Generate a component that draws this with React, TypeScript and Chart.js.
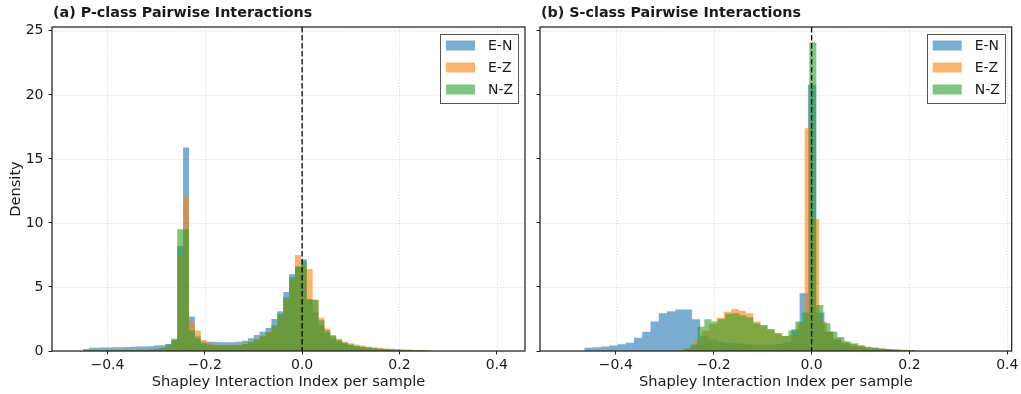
import React, { useEffect, useRef } from "react";
import { Chart, registerables } from "chart.js";

Chart.register(...registerables);

// ---------- data ----------
const SERIES_NAMES = ["E-N", "E-Z", "N-Z"];
const SERIES_COLORS = [
  "rgba(31,119,180,0.6)",
  "rgba(255,127,14,0.6)",
  "rgba(44,160,44,0.6)",
];
const PANEL_TITLES = ["(a) P-class Pairwise Interactions", "(b) S-class Pairwise Interactions"];
const X_LABEL = "Shapley Interaction Index per sample";
const Y_LABEL = "Density";
const X_TICKS = [-0.4, -0.2, 0, 0.2, 0.4];
const Y_TICKS = [0, 5, 10, 15, 20, 25];
const Y_MAX = 25.3;
const P_X_RANGE = [-0.514, 0.458];
const S_X_RANGE = [-0.555, 0.409];

// P-class: common bin grid
const P_BIN_START = -0.4503;
const P_BIN_WIDTH = 0.0121;
const P_EN = [0.15, 0.25, 0.25, 0.27, 0.27, 0.3, 0.3, 0.32, 0.33, 0.35, 0.36, 0.38, 0.42, 0.45, 0.55, 0.8, 8.2,
  15.9, 2.7, 1.2, 0.75, 0.72, 0.7, 0.68, 0.68, 0.68, 0.72, 0.8, 1.0, 1.25, 1.5, 1.8, 2.5, 3.1, 4.6, 6.0, 6.6, 7.16,
  4.0, 3.0, 2.0, 1.4, 1.0, 0.75, 0.58, 0.45, 0.36, 0.3, 0.25, 0.2, 0.15, 0.12, 0.1, 0.08, 0.06, 0.05, 0.04, 0.03, 0.02];
const P_EZ = [0.03, 0.05, 0.05, 0.06, 0.07, 0.08, 0.08, 0.1, 0.1, 0.12, 0.12, 0.15, 0.18, 0.22, 0.35, 0.9, 7.5,
  12.05, 2.3, 1.6, 0.85, 0.6, 0.5, 0.47, 0.45, 0.45, 0.5, 0.6, 0.75, 0.95, 1.2, 1.5, 2.0, 2.7, 4.0, 5.5, 7.5, 6.5,
  6.4, 4.0, 2.6, 1.75, 1.25, 0.95, 0.75, 0.6, 0.5, 0.42, 0.35, 0.3, 0.25, 0.2, 0.18, 0.15, 0.12, 0.1, 0.08, 0.05, 0.03];
const P_NZ = [0.02, 0.03, 0.03, 0.04, 0.05, 0.05, 0.06, 0.07, 0.08, 0.1, 0.1, 0.12, 0.15, 0.25, 0.5, 0.95, 9.5,
  9.5, 1.6, 1.0, 0.6, 0.5, 0.45, 0.45, 0.45, 0.45, 0.45, 0.55, 0.7, 0.9, 1.15, 1.45, 2.0, 2.9, 4.2, 5.75, 6.6, 7.0,
  4.06, 4.0, 2.4, 1.6, 1.2, 0.85, 0.65, 0.5, 0.4, 0.33, 0.27, 0.22, 0.18, 0.15, 0.13, 0.12, 0.1, 0.1, 0.08, 0.06, 0.04];

// S-class: each series has its own bins
const S_EN_START = -0.4646;
const S_EN_WIDTH = 0.01693;
const S_EN = [0.26, 0.3, 0.35, 0.42, 0.52, 0.65, 1.04, 1.5, 2.3, 2.94, 3.1, 3.25, 3.25, 2.47, 1.2, 0.9, 0.75, 0.65,
  0.6, 0.55, 0.5, 0.5, 0.5, 0.55, 0.7, 1.7, 4.5, 20.8, 3.0, 1.5, 0.9, 0.6, 0.4, 0.3, 0.2, 0.15, 0.12, 0.08, 0.05, 0.03];
const S_EZ_START = -0.2692;
const S_EZ_WIDTH = 0.015;
const S_EZ = [0.1, 0.3, 0.9, 1.6, 2.1, 2.6, 3.07, 3.28, 3.15, 2.94, 2.3, 2.03, 1.7, 1.38, 1.17, 1.25, 2.2, 17.4,
  10.3, 2.3, 1.5, 1.0, 0.75, 0.55, 0.45, 0.35, 0.28, 0.2, 0.15, 0.12, 0.08, 0.05];
const S_NZ_START = -0.262;
const S_NZ_WIDTH = 0.0143;
const S_NZ = [0.2, 0.5, 1.9, 2.47, 2.3, 2.5, 2.9, 2.94, 2.8, 2.63, 2.16, 2.0, 1.7, 1.38, 1.17, 1.6, 2.3, 3.0, 24.1,
  3.6, 2.16, 1.5, 1.1, 0.75, 0.6, 0.42, 0.3, 0.25, 0.2, 0.15, 0.12, 0.1, 0.07];

// ---------- helpers ----------
const FONT = "'DejaVu Sans', 'Liberation Sans', sans-serif";
const TEXT_COLOR = "#1a1a1a";

type Hist = { start: number; width: number; heights: number[] };

function histPoints(h: Hist) {
  const pts = h.heights.map((v, i) => ({ x: h.start + i * h.width, y: v }));
  pts.push({ x: h.start + h.heights.length * h.width, y: 0 });
  return pts;
}

function fmtX(v: number) {
  if (Math.abs(v) < 1e-9) return "0.0";
  return (v < 0 ? "\u2212" : "") + Math.abs(v).toFixed(1);
}

type PanelCfg = {
  title: string;
  hists: Hist[];
  xRange: number[];
  yAxisWidth: number;
  padRight: number;
  showYLabels: boolean;
};

const PANELS: PanelCfg[] = [
  {
    title: PANEL_TITLES[0],
    hists: [
      { start: P_BIN_START, width: P_BIN_WIDTH, heights: P_EN },
      { start: P_BIN_START, width: P_BIN_WIDTH, heights: P_EZ },
      { start: P_BIN_START, width: P_BIN_WIDTH, heights: P_NZ },
    ],
    xRange: P_X_RANGE,
    yAxisWidth: 52,
    padRight: 5,
    showYLabels: true,
  },
  {
    title: PANEL_TITLES[1],
    hists: [
      { start: S_EN_START, width: S_EN_WIDTH, heights: S_EN },
      { start: S_EZ_START, width: S_EZ_WIDTH, heights: S_EZ },
      { start: S_NZ_START, width: S_NZ_WIDTH, heights: S_NZ },
    ],
    xRange: S_X_RANGE,
    yAxisWidth: 10,
    padRight: 7,
    showYLabels: false,
  },
];

function makeDecorPlugin(cfg: PanelCfg) {
  return {
    id: "decor",
    beforeDatasetsDraw(chart: any) {
      const { ctx, chartArea } = chart;
      const xs = chart.scales.x;
      const ys = chart.scales.y;
      ctx.save();
      ctx.strokeStyle = "rgba(176,176,176,0.6)";
      ctx.lineWidth = 0.8;
      ctx.setLineDash([1, 1.8]);
      X_TICKS.forEach((v) => {
        const px = Math.round(xs.getPixelForValue(v)) + 0.5;
        ctx.beginPath();
        ctx.moveTo(px, chartArea.top);
        ctx.lineTo(px, chartArea.bottom);
        ctx.stroke();
      });
      Y_TICKS.forEach((v) => {
        const py = Math.round(ys.getPixelForValue(v)) + 0.5;
        ctx.beginPath();
        ctx.moveTo(chartArea.left, py);
        ctx.lineTo(chartArea.right, py);
        ctx.stroke();
      });
      ctx.restore();
    },
    afterDatasetsDraw(chart: any) {
      const { ctx, chartArea } = chart;
      const xs = chart.scales.x;
      ctx.save();
      // zero line
      const zx = xs.getPixelForValue(0);
      ctx.strokeStyle = "#000";
      ctx.lineWidth = 1.3;
      ctx.setLineDash([5.5, 2.5]);
      ctx.beginPath();
      ctx.moveTo(zx, chartArea.top);
      ctx.lineTo(zx, chartArea.bottom);
      ctx.stroke();
      ctx.setLineDash([]);
      // frame
      ctx.strokeStyle = "#222";
      ctx.lineWidth = 1.25;
      ctx.strokeRect(chartArea.left, chartArea.top, chartArea.right - chartArea.left, chartArea.bottom - chartArea.top);
      // legend
      const boxW = 78;
      const boxH = 69;
      const bx = chartArea.right - 7 - boxW;
      const by = chartArea.top + 7;
      ctx.fillStyle = "rgba(255,255,255,0.85)";
      ctx.fillRect(bx, by, boxW, boxH);
      ctx.strokeStyle = "#555";
      ctx.lineWidth = 1;
      ctx.strokeRect(Math.round(bx) + 0.5, Math.round(by) + 0.5, boxW, boxH);
      ctx.font = `14px ${FONT}`;
      ctx.textAlign = "left";
      ctx.textBaseline = "middle";
      SERIES_NAMES.forEach((name, i) => {
        const cy = by + 11.5 + i * 22;
        ctx.fillStyle = SERIES_COLORS[i];
        ctx.fillRect(bx + 6, cy - 5, 29, 10);
        ctx.fillStyle = TEXT_COLOR;
        ctx.fillText(name, bx + 48, cy + 0.5);
      });
      ctx.restore();
    },
    afterDraw(chart: any) {
      const { ctx, chartArea } = chart;
      ctx.save();
      ctx.fillStyle = TEXT_COLOR;
      ctx.font = `bold 14.3px ${FONT}`;
      ctx.textAlign = "left";
      ctx.textBaseline = "alphabetic";
      ctx.fillText(cfg.title, chartArea.left + 1, 17);
      ctx.font = `14.6px ${FONT}`;
      ctx.textAlign = "center";
      ctx.textBaseline = "middle";
      ctx.fillText(X_LABEL, (chartArea.left + chartArea.right) / 2, 382);
      if (cfg.showYLabels) {
        ctx.translate(16, (chartArea.top + chartArea.bottom) / 2);
        ctx.rotate(-Math.PI / 2);
        ctx.fillText(Y_LABEL, 0, 0);
      }
      ctx.restore();
    },
  };
}

function Panel({ cfg, left, width }: { cfg: PanelCfg; left: number; width: number }) {
  const ref = useRef<HTMLCanvasElement | null>(null);
  useEffect(() => {
    if (!ref.current) return;
    const order = [2, 1, 0]; // green drawn on top, blue at the bottom
    const chart = new Chart(ref.current, {
      type: "line",
      data: {
        datasets: order.map((i) => ({
          label: SERIES_NAMES[i],
          data: histPoints(cfg.hists[i]),
          stepped: "before",
          fill: "origin",
          backgroundColor: SERIES_COLORS[i],
          borderColor: "transparent",
          borderWidth: 0,
          pointRadius: 0,
          tension: 0,
        })),
      },
      options: {
        responsive: false,
        animation: false,
        events: [],
        layout: { padding: { left: 0, right: cfg.padRight, top: 27, bottom: 0 } },
        plugins: { legend: { display: false }, tooltip: { enabled: false }, title: { display: false } },
        scales: {
          x: {
            type: "linear",
            min: cfg.xRange[0],
            max: cfg.xRange[1],
            afterBuildTicks: (s: any) => {
              s.ticks = X_TICKS.map((v) => ({ value: v }));
            },
            afterFit: (s: any) => {
              s.height = 43;
            },
            grid: {
              display: true,
              drawOnChartArea: false,
              drawTicks: true,
              tickLength: 3.5,
              tickColor: "#222",
              tickWidth: 1,
            },
            border: { display: false },
            ticks: {
              color: TEXT_COLOR,
              font: { family: FONT, size: 14 },
              padding: 2.5,
              maxRotation: 0,
              autoSkip: false,
              callback: (v: any) => fmtX(Number(v)),
            },
          },
          y: {
            type: "linear",
            min: 0,
            max: Y_MAX,
            afterBuildTicks: (s: any) => {
              s.ticks = Y_TICKS.map((v) => ({ value: v }));
            },
            afterFit: (s: any) => {
              s.width = cfg.yAxisWidth;
            },
            grid: {
              display: true,
              drawOnChartArea: false,
              drawTicks: true,
              tickLength: 3.5,
              tickColor: "#222",
              tickWidth: 1,
            },
            border: { display: false },
            ticks: {
              display: cfg.showYLabels,
              color: TEXT_COLOR,
              font: { family: FONT, size: 14 },
              padding: 5,
              autoSkip: false,
              callback: (v: any) => String(v),
            },
          },
        },
      },
      plugins: [makeDecorPlugin(cfg)],
    } as any);
    return () => chart.destroy();
  }, [cfg]);
  return (
    <canvas
      ref={ref}
      width={width}
      height={394}
      style={{ position: "absolute", left, top: 0, width, height: 394, display: "block" }}
    />
  );
}

export default function App() {
  return (
    <div style={{ position: "absolute", left: 0, top: 0, width: 1021, height: 394, background: "#fff", overflow: "hidden" }}>
      <Panel cfg={PANELS[0]} left={0} width={530} />
      <Panel cfg={PANELS[1]} left={530} width={491} />
    </div>
  );
}
